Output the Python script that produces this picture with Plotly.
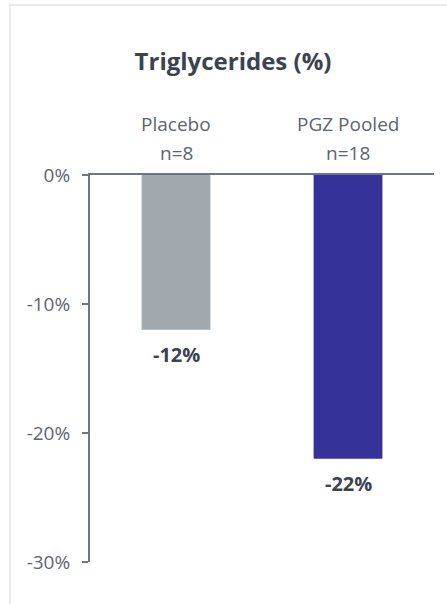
import plotly.graph_objects as go

# Triglyceride change from baseline by treatment group
groups = ["Placebo", "PGZ Pooled"]
group_n = [8, 18]
tg_change = [-12, -22]
bar_colors = ["#a2a9ae", "#35339a"]

y_ticks = [0, -10, -20, -30]
y_tick_labels = ["0%", "-10%", "-20%", "-30%"]

FONT = "Open Sans"
AXIS_COLOR = "#6e7682"
LABEL_COLOR = "#5d6470"
DARK = "#3b4250"

x_pos = list(range(len(groups)))

fig = go.Figure()
fig.add_trace(go.Bar(
    x=x_pos,
    y=tg_change,
    width=0.4,
    marker=dict(color=bar_colors, line=dict(width=0)),
    hoverinfo="skip",
    showlegend=False,
))

# value labels below each bar
for xi, v in zip(x_pos, tg_change):
    fig.add_annotation(
        x=xi, y=v, text=f"<b>{v}%</b>", showarrow=False,
        yanchor="top", yshift=-9,
        font=dict(family=FONT, size=20, color=DARK),
    )

# group name and sample size above the zero line
for xi, g, n in zip(x_pos, groups, group_n):
    for line, shift in ((g, 51), (f"n={n}", 22)):
        fig.add_annotation(
            x=xi, y=0, text=line, showarrow=False,
            yanchor="middle", yshift=shift,
            font=dict(family=FONT, size=19, color=LABEL_COLOR),
        )

# light frame around the panel
fig.add_shape(
    type="rect", xref="paper", yref="paper",
    x0=-0.2326, x1=1.2, y0=-0.3, y1=1.439,
    line=dict(color="#e3e5ea", width=1.5), fillcolor="rgba(0,0,0,0)",
    layer="below",
)

fig.update_layout(
    width=447, height=604,
    margin=dict(l=90, r=13, t=175, b=42),
    paper_bgcolor="white", plot_bgcolor="white",
    title=dict(
        text="<b>Triglycerides (%)</b>",
        x=233 / 447, xanchor="center",
        y=1 - 62 / 604, yanchor="middle",
        font=dict(family=FONT, size=24, color=DARK),
    ),
    xaxis=dict(
        range=[-0.5, 1.5], showticklabels=False, ticks="",
        showgrid=False, zeroline=False,
        showline=True, side="top", linecolor=AXIS_COLOR, linewidth=2,
        fixedrange=True,
    ),
    yaxis=dict(
        range=[-30, 0], tickvals=y_ticks, ticktext=y_tick_labels,
        ticks="outside", ticklen=6, tickwidth=2, tickcolor=AXIS_COLOR,
        showline=True, linecolor=AXIS_COLOR, linewidth=2,
        showgrid=False, zeroline=False,
        tickfont=dict(family=FONT, size=19, color=LABEL_COLOR),
        ticklabelstandoff=8,
        fixedrange=True,
    ),
)

fig.write_html("out.html")
